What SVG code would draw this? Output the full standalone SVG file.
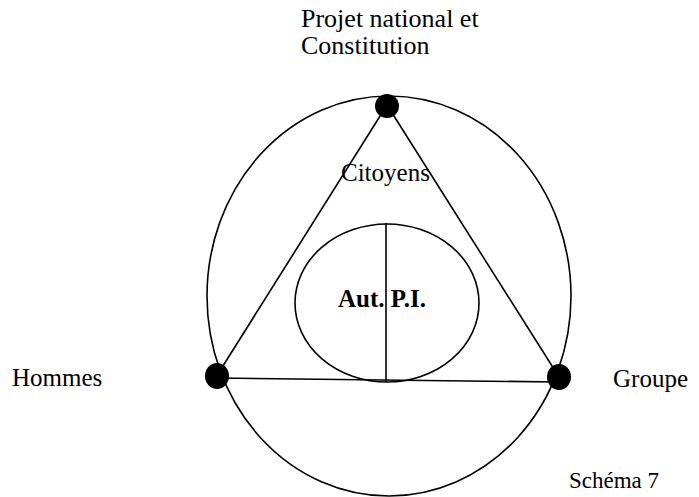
<svg xmlns="http://www.w3.org/2000/svg" width="699" height="497" viewBox="0 0 699 497">
<style>
.t{font-family:"Liberation Serif","Times New Roman",serif;font-size:25px;fill:#000}
.ln{stroke:#000;stroke-width:1.6;fill:none}
.dot{fill:#000}
</style>
<rect width="699" height="497" fill="#fff"/>
<g id="connectors">
<ellipse class="ln" cx="389" cy="296" rx="182" ry="200"/>
<line class="ln" x1="216" y1="377" x2="387" y2="105"/>
<line class="ln" x1="387" y1="105" x2="559" y2="377"/>
<line class="ln" x1="216" y1="378" x2="559" y2="382"/>
<ellipse class="ln" cx="387" cy="303" rx="92" ry="79"/>
<line class="ln" x1="386" y1="223" x2="386" y2="382"/>
</g>
<g id="node-projet">
<circle class="dot" cx="387" cy="106" r="12"/>
<text class="t" x="301" y="27" style="font-size:26px">Projet national et</text>
<text class="t" x="301" y="54" style="font-size:26px">Constitution</text>
</g>
<g id="node-citoyens"><text class="t" x="341" y="181">Citoyens</text></g>
<g id="node-autpi"><text class="t" x="338" y="307" font-weight="bold">Aut. P.I.</text></g>
<g id="node-hommes">
<ellipse class="dot" cx="217" cy="376" rx="12" ry="13"/>
<text class="t" x="12" y="386">Hommes</text>
</g>
<g id="node-groupe">
<ellipse class="dot" cx="559" cy="377" rx="12" ry="13"/>
<text class="t" x="613" y="387">Groupe</text>
</g>
<g id="caption"><text class="t" x="569" y="488" style="font-size:23px">Schéma 7</text></g>
</svg>
